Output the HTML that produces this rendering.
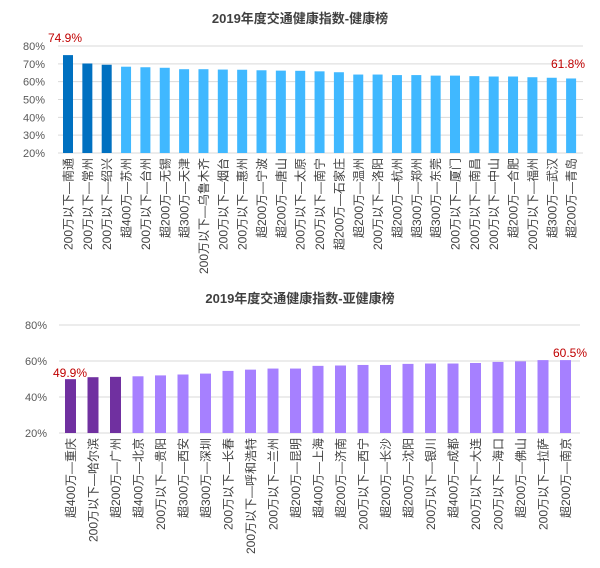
<!DOCTYPE html><html><head><meta charset="utf-8"><style>body{margin:0;background:#fff}svg text{font-family:"Liberation Sans","Noto Sans CJK SC",sans-serif}</style></head><body>
<svg width="600" height="563" xmlns="http://www.w3.org/2000/svg" id="s"></svg>
<script>
const s=document.getElementById('s');let h='';
h+='<text x="300" y="23" text-anchor="middle" font-size="13" font-weight="bold" fill="#404040">2019年度交通健康指数-健康榜</text>';
h+='<text x="300" y="303" text-anchor="middle" font-size="13" font-weight="bold" fill="#404040">2019年度交通健康指数-亚健康榜</text>';
const d1=[["200万以下—南通",74.9],["200万以下—常州",70.2],["200万以下—绍兴",69.5],["超400万—苏州",68.4],["200万以下—台州",68.1],["超200万—无锡",67.8],["超300万—天津",67],["200万以下—乌鲁木齐",67],["200万以下—烟台",66.8],["200万以下—惠州",66.7],["超200万—宁波",66.4],["超200万—唐山",66.2],["200万以下—太原",66.1],["200万以下—南宁",65.8],["超200万—石家庄",65.3],["超200万—温州",64],["200万以下—洛阳",64],["超200万—杭州",63.7],["超300万—郑州",63.7],["超300万—东莞",63.4],["200万以下—厦门",63.4],["200万以下—南昌",63.1],["200万以下—中山",62.9],["超200万—合肥",62.9],["200万以下—福州",62.5],["超300万—武汉",62.2],["超200万—青岛",61.8]];
const y1=v=>153-(v-20)*1.783;
for(let i=0;i<7;i++){const y=46+i*17.83;h+=`<line x1="58" x2="583" y1="${y}" y2="${y}" stroke="#d9d9d9" stroke-width="1"/><text x="45" y="${y+4}" text-anchor="end" font-size="11" fill="#595959">${80-i*10}%</text>`;}
d1.forEach((d,i)=>{const c=68+i*19.35;const y=y1(d[1]);h+=`<rect x="${c-5}" y="${y}" width="10" height="${153-y}" fill="${i<3?'#0070c0':'#40b8ff'}"/>`;h+=`<text transform="translate(${c+4.5},158) rotate(-90)" text-anchor="end" font-size="12" fill="#404040">${d[0]}</text>`;});
h+='<text x="48" y="42" font-size="12" fill="#c00000">74.9%</text><text x="551" y="68" font-size="12" fill="#c00000">61.8%</text>';
const d2=[["超400万—重庆",49.9],["200万以下—哈尔滨",51],["超200万—广州",51.2],["超400万—北京",51.5],["200万以下—贵阳",52],["超300万—西安",52.5],["超300万—深圳",53],["200万以下—长春",54.5],["200万以下—呼和浩特",55.2],["200万以下—兰州",55.8],["超200万—昆明",55.8],["超400万—上海",57.3],["超200万—济南",57.5],["200万以下—西宁",57.8],["超200万—长沙",57.8],["超200万—沈阳",58.4],["200万以下—银川",58.6],["超400万—成都",58.6],["200万以下—大连",58.9],["200万以下—海口",59.5],["超200万—佛山",59.8],["200万以下—拉萨",60.5],["超200万—南京",60.5]];
const y2=v=>433-(v-20)*1.8;
for(let i=0;i<4;i++){const y=325+i*36;h+=`<line x1="59" x2="580" y1="${y}" y2="${y}" stroke="#d9d9d9" stroke-width="1"/><text x="47" y="${y+4}" text-anchor="end" font-size="11" fill="#595959">${80-i*20}%</text>`;}
d2.forEach((d,i)=>{const c=70.5+i*22.5;const y=y2(d[1]);h+=`<rect x="${c-5.5}" y="${y}" width="11" height="${433-y}" fill="${i<3?'#7030a0':'#a680ff'}"/>`;h+=`<text transform="translate(${c+4.5},438) rotate(-90)" text-anchor="end" font-size="12" fill="#404040">${d[0]}</text>`;});
h+='<text x="53" y="377" font-size="12" fill="#c00000">49.9%</text><text x="553" y="357" font-size="12" fill="#c00000">60.5%</text>';
s.innerHTML=h;
</script></body></html>
